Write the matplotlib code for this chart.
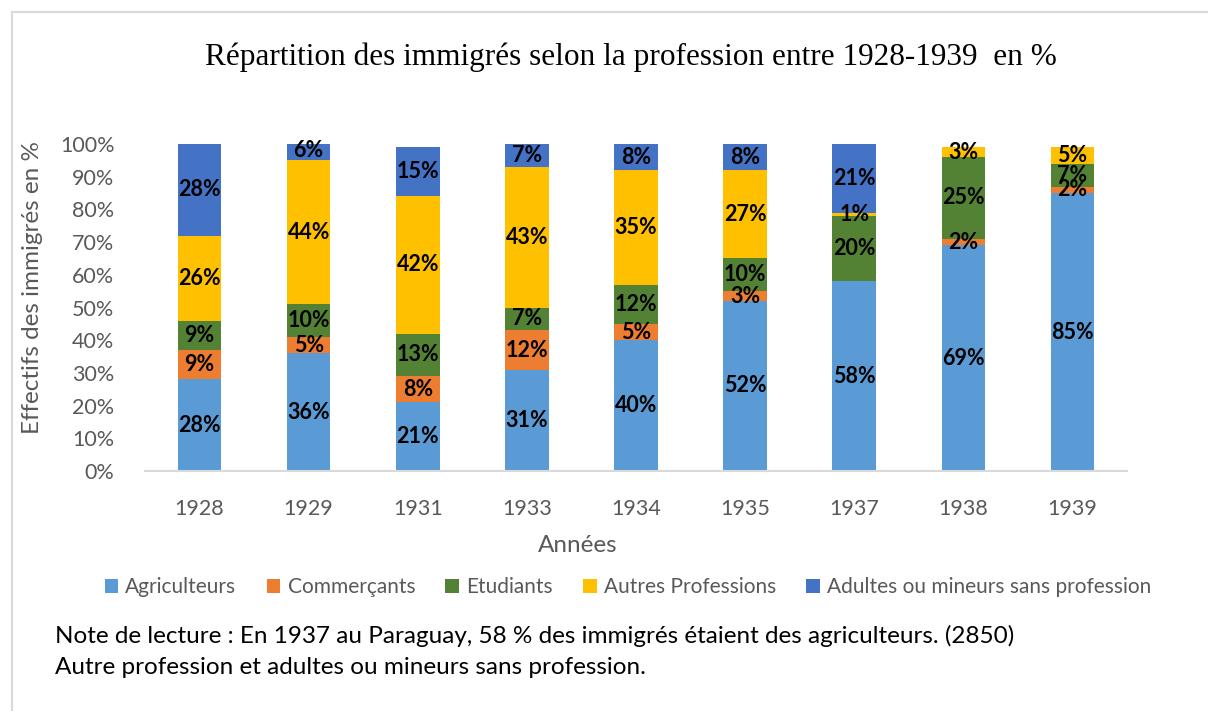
import matplotlib
matplotlib.use("Agg")
import matplotlib.pyplot as plt
import numpy as np
from matplotlib.lines import Line2D
from matplotlib.patches import Patch

years = ["1928", "1929", "1931", "1933", "1934", "1935", "1937", "1938", "1939"]
agriculteurs = [28, 36, 21, 31, 40, 52, 58, 69, 85]
commercants = [9, 5, 8, 12, 5, 3, 0, 2, 2]
etudiants = [9, 10, 13, 7, 12, 10, 20, 25, 7]
autres = [26, 44, 42, 43, 35, 27, 1, 3, 5]
adultes = [28, 6, 15, 7, 8, 8, 21, 0, 0]

series_names = ["Agriculteurs", "Commerçants", "Etudiants", "Autres Professions",
                "Adultes ou mineurs sans profession"]
series = [agriculteurs, commercants, etudiants, autres, adultes]
colors = ["#5B9BD5", "#ED7D31", "#548235", "#FFC000", "#4472C4"]

font = "Lato"
gray = "#595959"

fig = plt.figure(figsize=(12.08, 7.11), dpi=100)
ax = fig.add_axes([145/1208, 1-471/711, (1127-145)/1208, (471-144)/711])

x = np.arange(len(years))
bottom = np.zeros(len(years))
for name, vals, col in zip(series_names, series, colors):
    v = np.array(vals) / 100.0
    ax.bar(x, v, 0.4, bottom=bottom, color=col, label=name, zorder=2)
    for xi, b, h in zip(x, bottom, v):
        if h > 0:
            ax.text(xi, b + h/2, f"{int(round(h*100))}%", ha="center", va="center",
                    fontsize=15.5, fontweight="bold", family=font, color="black", zorder=3,
                    clip_on=False)
    bottom += v

ax.set_xlim(-0.5, len(years) - 0.5)
ax.set_ylim(0, 1)
ax.set_yticks(np.arange(0, 1.01, 0.1))
ax.set_yticklabels([f"{int(round(t*100))}%" for t in np.arange(0, 1.01, 0.1)])
ax.set_xticks(x)
ax.set_xticklabels(years)
for lab in ax.get_xticklabels() + ax.get_yticklabels():
    lab.set_family(font)
    lab.set_fontsize(15.5)
    lab.set_color(gray)
ax.tick_params(axis="both", length=0)
ax.tick_params(axis="x", pad=20)
ax.tick_params(axis="y", pad=22)
for s in ["top", "right", "left"]:
    ax.spines[s].set_visible(False)
ax.spines["bottom"].set_color("#D9D9D9")
ax.spines["bottom"].set_linewidth(1.5)

fig.text(33/1208, 1-288/711, "Effectifs des immigrés en %", rotation=90, ha="center",
         va="center", fontsize=17.5, family=font, color=gray)
fig.text(578/1208, 1-546/711, "Années", ha="center", va="center", fontsize=17.5,
         family=font, color=gray)
fig.text(631/1208, 1-57/711, "Répartition des immigrés selon la profession entre 1928-1939  en %",
         ha="center", va="center", fontsize=22.5, family="Liberation Serif", color="black")

handles = [Patch(facecolor=c, edgecolor="none") for c in colors]
leg = fig.legend(handles, series_names, loc="center", bbox_to_anchor=(628/1208, 1-587/711),
                 ncol=5, frameon=False, handlelength=0.65, handleheight=0.65,
                 handletextpad=0.35, columnspacing=1.45,
                 prop={"family": font, "size": 15})
for t in leg.get_texts():
    t.set_color(gray)

fig.text(55/1208, 1-636/711,
         "Note de lecture : En 1937 au Paraguay, 58 % des immigrés étaient des agriculteurs. (2850)",
         ha="left", va="center", fontsize=17.5, family=font, color="black")
fig.text(55/1208, 1-667/711, "Autre profession et adultes ou mineurs sans profession.",
         ha="left", va="center", fontsize=17.5, family=font, color="black")

# outer frame (top and left borders)
fig.add_artist(Line2D([12/1208, 1], [1-12/711, 1-12/711], color="#D9D9D9", lw=1.5))
fig.add_artist(Line2D([12/1208, 12/1208], [0, 1-12/711], color="#D9D9D9", lw=1.5))

fig.savefig("out.png", dpi=100)
